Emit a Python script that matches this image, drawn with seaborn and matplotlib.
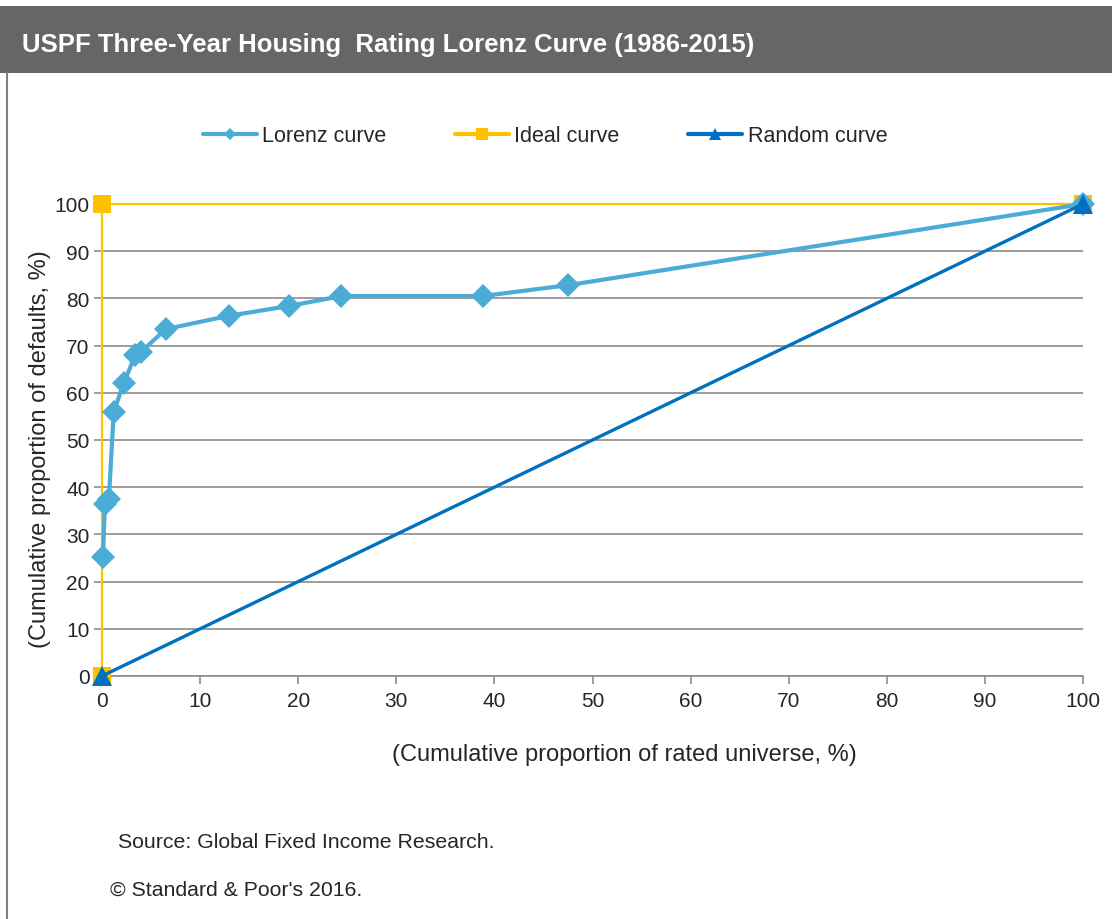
import matplotlib
matplotlib.use("Agg")
import matplotlib.pyplot as plt
from matplotlib.patches import Rectangle
from matplotlib.lines import Line2D
import seaborn as sns
import pandas as pd

# Cumulative proportion of rated universe (%) vs cumulative proportion of defaults (%)
lorenz_x = [0.1, 0.3, 0.7, 1.2, 2.2, 3.4, 4.0, 6.5, 12.9, 19.1, 24.4, 38.8, 47.5, 100.0]
lorenz_y = [25.2, 36.5, 37.5, 56.0, 62.0, 68.0, 68.7, 73.5, 76.3, 78.4, 80.5, 80.5, 82.8, 100.0]
ideal_x = [0, 0, 100]
ideal_y = [0, 100, 100]
random_x = [0, 100]
random_y = [0, 100]

series_names = ["Lorenz curve", "Ideal curve", "Random curve"]
x_ticks = list(range(0, 101, 10))
y_ticks = list(range(0, 101, 10))

title = "USPF Three-Year Housing  Rating Lorenz Curve (1986-2015)"
x_label = "(Cumulative proportion of rated universe, %)"
y_label = "(Cumulative proportion of defaults, %)"
source_note = "Source: Global Fixed Income Research."
copyright_note = "\u00a9 Standard & Poor's 2016."

sns.set_theme(style="white")
plt.rcParams["font.family"] = ["Liberation Sans", "DejaVu Sans"]

c_lorenz = "#4BACD6"
c_ideal = "#FFC000"
c_random = "#0070C0"
c_grid = "#8C8C8C"
c_text = "#262626"

W, H = 1112, 920
fig = plt.figure(figsize=(W / 100, H / 100), dpi=100)

# header band and left frame line
fig.patches.append(Rectangle((0, (H - 74) / H), 1, 67 / H, transform=fig.transFigure,
                             facecolor="#666666", edgecolor="none", zorder=0))
fig.lines.append(Line2D([7 / W, 7 / W], [0, (H - 74) / H], transform=fig.transFigure,
                        color="#7F7F7F", lw=1.5))
fig.text(22 / W, (H - 45) / H, title, color="white", fontsize=18.5, fontweight="bold",
         va="center", ha="left")

ax = fig.add_axes([102 / W, (H - 677) / H, (1083 - 102) / W, (677 - 205) / H])

df_lorenz = pd.DataFrame({"x": lorenz_x, "y": lorenz_y})
df_ideal = pd.DataFrame({"x": ideal_x, "y": ideal_y})
df_random = pd.DataFrame({"x": random_x, "y": random_y})

sns.lineplot(data=df_ideal, x="x", y="y", sort=False, estimator=None, ax=ax, color=c_ideal,
             lw=1.6, marker="s", markersize=13, markeredgewidth=0, clip_on=False, zorder=3)
sns.lineplot(data=df_lorenz, x="x", y="y", sort=False, estimator=None, ax=ax, color=c_lorenz,
             lw=3, marker="D", markersize=12, markeredgewidth=0, clip_on=False, zorder=4)
sns.lineplot(data=df_random, x="x", y="y", sort=False, estimator=None, ax=ax, color=c_random,
             lw=2.4, marker="^", markersize=15, markeredgewidth=0, clip_on=False, zorder=5)

ax.set_xlim(0, 100)
ax.set_ylim(0, 100)
ax.set_xticks(x_ticks)
ax.set_yticks(y_ticks)
ax.set_xticklabels([str(v) for v in x_ticks])
ax.set_yticklabels([str(v) for v in y_ticks])
ax.yaxis.grid(True, color=c_grid, lw=1.2)
ax.xaxis.grid(False)
for side in ["left", "right", "top"]:
    ax.spines[side].set_visible(False)
ax.spines["bottom"].set_color(c_grid)
ax.spines["bottom"].set_linewidth(1.2)
ax.tick_params(axis="x", direction="out", length=6, width=1.2, color=c_grid,
               labelsize=15, labelcolor=c_text, pad=5, bottom=True)
ax.tick_params(axis="y", direction="out", length=6, width=1.2, color=c_grid,
               labelsize=15, labelcolor=c_text, pad=3, left=True)
ax.set_xlabel("")
ax.set_ylabel("")

fig.text(624 / W, (H - 755) / H, x_label, fontsize=17, color=c_text, ha="center", va="center")
fig.text(40 / W, (H - 449) / H, y_label, fontsize=17, color=c_text, ha="center", va="center",
         rotation=90)
fig.text(118 / W, (H - 843) / H, source_note, fontsize=15.3, color=c_text, ha="left", va="center")
fig.text(110 / W, (H - 890) / H, copyright_note, fontsize=15.3, color=c_text, ha="left", va="center")

handles = [
    Line2D([], [], color=c_lorenz, lw=3, marker="D", markersize=6, markeredgewidth=0),
    Line2D([], [], color=c_ideal, lw=3, marker="s", markersize=9, markeredgewidth=0),
    Line2D([], [], color=c_random, lw=3, marker="^", markersize=8, markeredgewidth=0),
]
leg = fig.legend(handles, series_names, loc="center", bbox_to_anchor=(545 / W, (H - 137) / H),
                 ncol=3, frameon=False, fontsize=15.5, handlelength=2.5, handletextpad=0.25,
                 columnspacing=3.2, labelcolor=c_text)

fig.savefig("out.png", dpi=100, facecolor="white")
